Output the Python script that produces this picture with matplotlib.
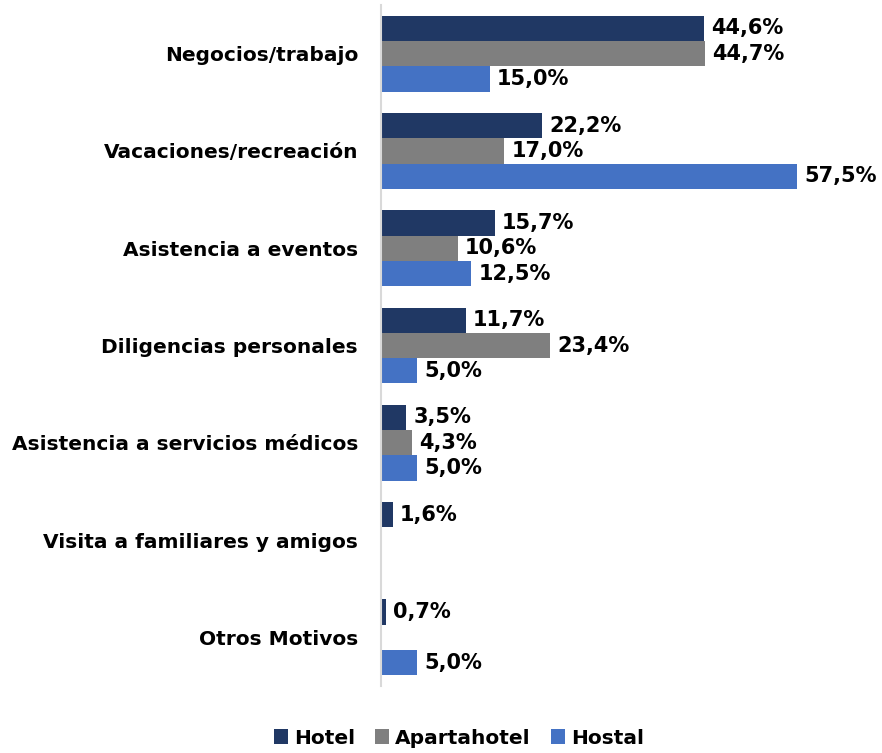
import matplotlib
matplotlib.use('Agg')
import matplotlib.pyplot as plt
import numpy as np

categories = ['Negocios/trabajo', 'Vacaciones/recreación', 'Asistencia a eventos',
              'Diligencias personales', 'Asistencia a servicios médicos',
              'Visita a familiares y amigos', 'Otros Motivos']
series = ['Hotel', 'Apartahotel', 'Hostal']
hotel = [44.6, 22.2, 15.7, 11.7, 3.5, 1.6, 0.7]
apartahotel = [44.7, 17.0, 10.6, 23.4, 4.3, 0.0, 0.0]
hostal = [15.0, 57.5, 12.5, 5.0, 5.0, 0.0, 5.0]

colors = ['#203864', '#7F7F7F', '#4472C4']

plt.rcParams['font.family'] = 'DejaVu Sans'
plt.rcParams['font.weight'] = 'bold'

fig = plt.figure(figsize=(8.82, 7.53), dpi=100)
ax = fig.add_axes([381/882, 1-686/753, 1-381/882, 681/753])

y = np.arange(len(categories))
h = 0.26
for k, (vals, name, c) in enumerate(zip([hotel, apartahotel, hostal], series, colors)):
    pos = y + (k-1)*h
    vals = np.array(vals)
    ax.barh(pos, vals, height=h, color=c, label=name)
    for p, v in zip(pos, vals):
        if v > 0:
            ax.text(v + 1.0, p, ('%.1f%%' % v).replace('.', ','),
                    va='center', ha='left', fontsize=15, fontweight='bold')

ax.set_xlim(0, 69.2)
ax.set_ylim(6.5, -0.5)
ax.set_yticks(y)
ax.set_yticklabels(categories, fontsize=14.5, fontweight='bold')
ax.tick_params(axis='y', length=0, pad=16.5)
ax.set_xticks([])
for s in ['top', 'right', 'bottom']:
    ax.spines[s].set_visible(False)
ax.spines['left'].set_color('#D9D9D9')
ax.spines['left'].set_linewidth(1.5)

fig.legend(loc='center', bbox_to_anchor=(459/882, 1-738/753), ncol=3, frameon=False,
           fontsize=14.5, handlelength=0.7, handleheight=0.7, columnspacing=1.0,
           handletextpad=0.3)

fig.savefig('out.png', dpi=100)
